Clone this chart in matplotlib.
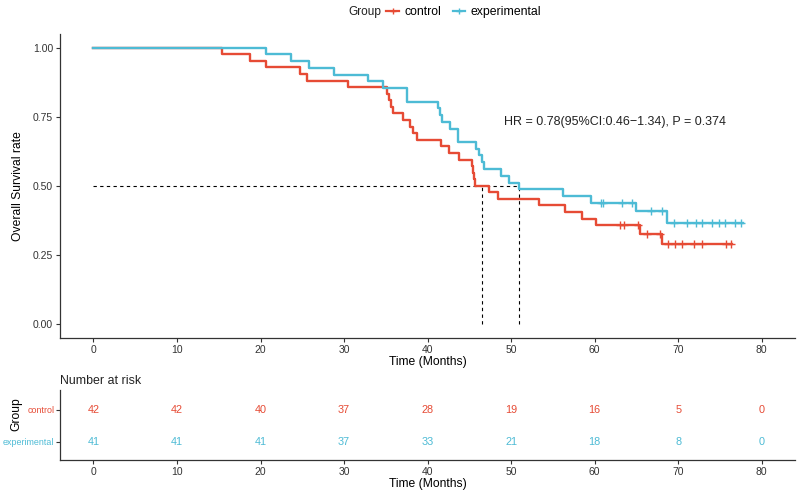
import matplotlib
matplotlib.use("Agg")
import matplotlib.pyplot as plt
from matplotlib.lines import Line2D

plt.rcParams['font.family'] = ['Liberation Sans', 'DejaVu Sans']

# control group, Kaplan-Meier steps
ctrl_time = [0, 15.4, 18.8, 20.6, 24.7, 25.6, 30.5, 35.2, 35.4, 35.6, 35.8, 37.0, 37.9, 38.3, 38.7,
             41.6, 42.6, 43.7, 45.3, 45.45, 45.55, 45.65, 47.4, 48.4, 53.3, 56.4, 58.5, 60.2, 65.4, 68.1]
ctrl_surv = [1.0, 0.976, 0.952, 0.929, 0.905, 0.881, 0.857, 0.833, 0.810, 0.786, 0.762, 0.738, 0.714, 0.690, 0.667,
             0.643, 0.619, 0.595, 0.571, 0.548, 0.524, 0.500, 0.476, 0.452, 0.429, 0.405, 0.381, 0.357, 0.327, 0.288]
ctrl_end = 76.4
ctrl_cens = [63.0, 63.5, 65.2, 66.3, 67.8, 68.8, 69.6, 70.4, 71.9, 72.9, 75.7, 76.3]

# experimental group
exp_time = [0, 20.7, 23.7, 25.8, 28.8, 32.9, 34.7, 37.5, 41.3, 41.5, 41.7, 42.7, 43.6,
            45.85, 46.2, 46.5, 46.8, 48.8, 49.8, 50.9, 56.2, 59.6, 65.0, 68.6]
exp_surv = [1.0, 0.976, 0.951, 0.927, 0.902, 0.878, 0.854, 0.805, 0.780, 0.756, 0.732, 0.707, 0.659,
            0.634, 0.610, 0.585, 0.561, 0.537, 0.512, 0.488, 0.463, 0.439, 0.408, 0.367]
exp_end = 77.7
exp_cens = [60.7, 61.0, 63.3, 64.5, 66.7, 68.1, 69.5, 71.1, 72.1, 72.9, 74.1, 74.9, 75.6, 76.8, 77.5]

median_ctrl = 46.5
median_exp = 50.9

risk_times = [0, 10, 20, 30, 40, 50, 60, 70, 80]
risk_ctrl = [42, 42, 40, 37, 28, 19, 16, 5, 0]
risk_exp = [41, 41, 41, 37, 33, 21, 18, 8, 0]

groups = ["control", "experimental"]
red = '#E64B35'
blue = '#4DBBD5'
txt = '#333333'


def surv_at(times, surv, t):
    s = surv[0]
    for ti, si in zip(times, surv):
        if ti <= t:
            s = si
    return s


fig = plt.figure(figsize=(8, 4.91), dpi=100)
ax = fig.add_axes([0.075, 0.312, 0.919, 0.619])
ax2 = fig.add_axes([0.075, 0.063, 0.919, 0.143])

for times, surv, end, cens, col in [(ctrl_time, ctrl_surv, ctrl_end, ctrl_cens, red),
                                    (exp_time, exp_surv, exp_end, exp_cens, blue)]:
    ax.step(times + [end], surv + [surv[-1]], where='post', color=col, lw=1.7, zorder=3)
    ax.plot(cens, [surv_at(times, surv, c) for c in cens], '+', color=col, ms=5.5, mew=1, zorder=4)

# median lines
ax.plot([0, max(median_ctrl, median_exp)], [0.5, 0.5], color='black', lw=0.8, ls=(0, (3, 3)), zorder=2)
for m in [median_ctrl, median_exp]:
    ax.plot([m, m], [0, 0.5], color='black', lw=0.8, ls=(0, (3, 3)), zorder=2)

ax.text(62.4, 0.73, "HR = 0.78(95%CI:0.46\u22121.34), P = 0.374", ha='center', va='center', fontsize=9, color='#222222')

ax.set_xlim(-4, 84)
ax.set_ylim(-0.05, 1.05)
ax.set_xticks(risk_times)
ax.set_yticks([0, 0.25, 0.5, 0.75, 1.0])
ax.set_yticklabels(["0.00", "0.25", "0.50", "0.75", "1.00"])
ax.set_xlabel("Time (Months)", fontsize=8.7, labelpad=1)
ax.set_ylabel("Overall Survival rate", fontsize=8.7, labelpad=6)

for a in [ax, ax2]:
    for s in ['top', 'right']:
        a.spines[s].set_visible(False)
    for s in ['left', 'bottom']:
        a.spines[s].set_color('#333333')
        a.spines[s].set_linewidth(0.9)
    a.tick_params(labelsize=7.5, colors=txt, length=3, width=0.8, pad=2)

# risk table
for i, (vals, col) in enumerate([(risk_ctrl, red), (risk_exp, blue)]):
    y = 2 - i
    for t, v in zip(risk_times, vals):
        ax2.text(t, y, str(v), ha='center', va='center', fontsize=7.8, color=col)
ax2.set_xlim(-4, 84)
ax2.set_ylim(0.42, 2.63)
ax2.set_xticks(risk_times)
ax2.set_yticks([2, 1])
ax2.set_yticklabels(groups)
ax2.tick_params(axis='y', labelsize=6.4, pad=1)
for lab, col in zip(ax2.get_yticklabels(), [red, blue]):
    lab.set_color(col)
ax2.set_xlabel("Time (Months)", fontsize=8.7, labelpad=1)
ax2.set_ylabel("Group", fontsize=8.7)
ax2.yaxis.set_label_coords(-0.051, 0.66)
ax2.set_title("Number at risk", loc='left', fontsize=8.9, pad=4, color='#222222')

# legend
fig.text(0.436, 0.975, "Group", ha='left', va='center', fontsize=8.6, color='#222222')
handles = [Line2D([], [], color=red, marker='+', ms=5, lw=1.6),
           Line2D([], [], color=blue, marker='+', ms=5, lw=1.6)]
fig.legend(handles, groups, loc='center left', bbox_to_anchor=(0.483, 0.975), ncol=2, frameon=False,
           fontsize=8.8, handlelength=1.0, handletextpad=0.45, columnspacing=1.0, borderaxespad=0, borderpad=0)

fig.savefig("out.png", dpi=100)
